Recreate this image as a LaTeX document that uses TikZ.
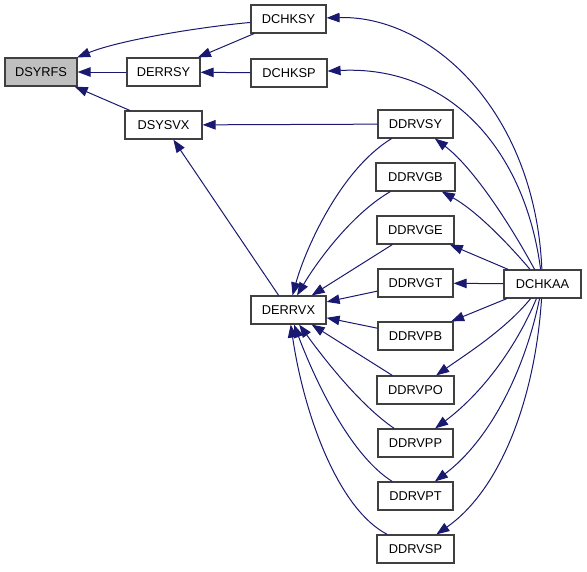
\documentclass[tikz,border=0pt]{standalone}
\usepackage{fontspec}
\setmainfont{Liberation Sans}
\usetikzlibrary{arrows.meta}
\definecolor{edgeblue}{RGB}{25,25,112}
\definecolor{boxline}{RGB}{64,64,64}
\definecolor{rootfill}{RGB}{191,191,191}
\begin{document}
\begin{tikzpicture}[x=1pt,y=-1pt,
  fn/.style={draw=boxline,line width=1.2pt,fill=white,minimum height=28pt,inner sep=0pt,
    font=\fontsize{12.8}{14}\selectfont},
  root/.style={fn,fill=rootfill},
  call/.style={draw=edgeblue,line width=1pt,-{Triangle[length=13pt,width=9.5pt]}}]
\useasboundingbox (0,0) rectangle (587,571);
% nodes
\node[root,minimum width=72pt] (dsyrfs) at (41,72) {DSYRFS};
\node[fn,minimum width=73pt] (derrsy) at (163.5,72) {DERRSY};
\node[fn,minimum width=75pt] (dchksy) at (288.5,19) {DCHKSY};
\node[fn,minimum width=76pt] (dchksp) at (289,73) {DCHKSP};
\node[fn,minimum width=77pt] (dsysvx) at (163.5,125) {DSYSVX};
\node[fn,minimum width=75pt] (ddrvsy) at (415.5,124) {DDRVSY};
\node[fn,minimum width=79pt] (ddrvgb) at (415.5,177) {DDRVGB};
\node[fn,minimum width=77pt] (ddrvge) at (415.5,230) {DDRVGE};
\node[fn,minimum width=75pt] (ddrvgt) at (415.5,283) {DDRVGT};
\node[fn,minimum width=77pt] (dchkaa) at (542.5,284) {DCHKAA};
\node[fn,minimum width=75pt] (derrvx) at (288.5,310) {DERRVX};
\node[fn,minimum width=75pt] (ddrvpb) at (415.5,336) {DDRVPB};
\node[fn,minimum width=77pt] (ddrvpo) at (415.5,390) {DDRVPO};
\node[fn,minimum width=75pt] (ddrvpp) at (415.5,443) {DDRVPP};
\node[fn,minimum width=75pt] (ddrvpt) at (415.5,496) {DDRVPT};
\node[fn,minimum width=77pt] (ddrvsp) at (415.5,549) {DDRVSP};
% edges into DSYRFS / DERRSY
\draw[call] (dchksy) .. controls (200,27) and (120,40) .. (dsyrfs);
\draw[call] (dchksy) -- (derrsy);
\draw[call] (derrsy) -- (dsyrfs);
\draw[call] (dsysvx) -- (dsyrfs);
\draw[call] (dchksp) -- (derrsy);
% from DCHKAA
\draw[call] (dchkaa) .. controls (535,110) and (430,15) .. (dchksy);
\draw[call] (dchkaa) .. controls (525,150) and (450,65) .. (dchksp);
\draw[call] (dchkaa) .. controls (505,215) and (470,165) .. (ddrvsy);
\draw[call] (dchkaa) .. controls (505,240) and (475,210) .. (ddrvgb);
\draw[call] (dchkaa) -- (ddrvge);
\draw[call] (dchkaa) -- (ddrvgt);
\draw[call] (dchkaa) -- (ddrvpb);
\draw[call] (dchkaa) .. controls (505,330) and (465,355) .. (ddrvpo);
\draw[call] (dchkaa) .. controls (515,350) and (480,395) .. (ddrvpp);
\draw[call] (dchkaa) .. controls (525,370) and (490,440) .. (ddrvpt);
\draw[call] (dchkaa) .. controls (535,400) and (500,490) .. (ddrvsp);
% into DSYSVX
\draw[call] (ddrvsy) -- (dsysvx);
\draw[call] (derrvx) -- (dsysvx);
% into DERRVX
\draw[call] (ddrvsy) .. controls (340,170) and (305,250) .. (derrvx);
\draw[call] (ddrvgb) .. controls (350,215) and (315,265) .. (derrvx);
\draw[call] (ddrvge) -- (derrvx);
\draw[call] (ddrvgt) -- (derrvx);
\draw[call] (ddrvpb) -- (derrvx);
\draw[call] (ddrvpo) -- (derrvx);
\draw[call] (ddrvpp) .. controls (360,405) and (325,360) .. (derrvx);
\draw[call] (ddrvpt) .. controls (350,455) and (315,380) .. (derrvx);
\draw[call] (ddrvsp) .. controls (340,510) and (305,420) .. (derrvx);
\end{tikzpicture}
\end{document}
